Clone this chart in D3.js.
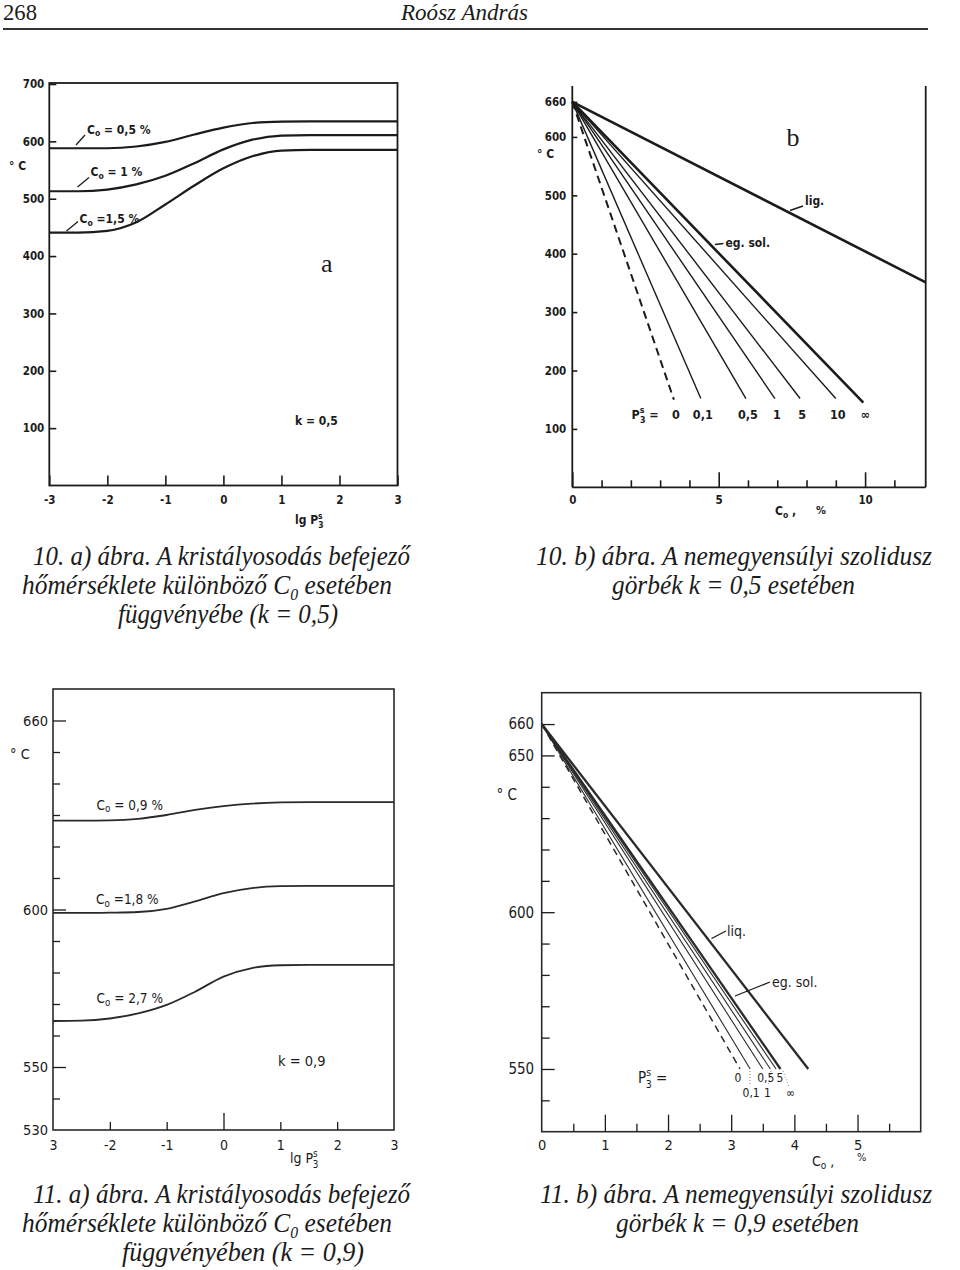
<!DOCTYPE html>
<html><head><meta charset="utf-8">
<script src="https://cdn.jsdelivr.net/npm/d3@7"></script>
<style>
body{margin:0;background:#fff;}
svg{display:block;}
</style></head><body>
<svg id="c" width="960" height="1270"></svg>
<script>
// ---------------- DATA ----------------
const pageNumber = "268";
const author = "Roósz András";

// Fig 10 a) — k = 0.5
const fig10a_lgP = [-3,-2.5,-2,-1.5,-1,-0.5,0,0.5,1,1.5,2,2.5,3];
const fig10a_C05 = [588,588,588,591,599,612,624,632,634.5,635,635,635,635];
const fig10a_C10 = [513,513,516,525,540,562,586,603,610,611,611,611,611];
const fig10a_C15 = [441,441,444,459,490,523,553,574,584,585,585,585,585];
const fig10a_yTicks = [100,200,300,400,500,600,700];
const fig10a_xTicks = [-3,-2,-1,0,1,2,3];

// Fig 10 b) — k = 0.5
const fig10b_origin = [0,660];
const fig10b_P = ["0","0,1","0,5","1","5","10","∞"];
const fig10b_endC = [3.47,4.39,5.93,6.92,7.78,9.0,9.94];
const fig10b_endT = [150,152,152,152,152,152,145];
const fig10b_liqEnd = [12.07,351];
const fig10b_yTicks = [100,200,300,400,500,600,660];
const fig10b_xTicks = [0,5,10];

// Fig 11 a) — k = 0.9
const fig11a_lgP = [-3,-2.5,-2,-1.5,-1,-0.5,0,0.5,1,1.5,2,2.5,3];
const fig11a_C09 = [628.2,628.2,628.3,628.8,630.0,631.6,632.8,633.6,634.0,634.1,634.1,634.1,634.1];
const fig11a_C18 = [598.9,598.9,599.0,599.2,600.2,602.6,605.2,606.8,607.4,607.5,607.5,607.5,607.5];
const fig11a_C27 = [564.6,564.7,565.4,567.0,569.7,573.9,578.7,581.4,582.3,582.4,582.4,582.4,582.4];
const fig11a_yTicks = [660,600,550,530];
const fig11a_xTicks = [-3,-2,-1,0,1,2,3];
const fig11a_xTickLabels = ["3","-2","-1","0","1","2","3"];

// Fig 11 b) — k = 0.9
const fig11b_origin = [0,660];
const fig11b_P = ["0","0,1","0,5","1","5","∞"];
const fig11b_endC = [3.14,3.30,3.50,3.62,3.71,3.78];
const fig11b_endT = [550,550,550,550,550,550];
const fig11b_liqEnd = [4.22,550];
const fig11b_yTicks = [660,650,600,550];
const fig11b_xTicks = [0,1,2,3,4,5];

// captions
const cap10a = ["10. a) ábra. A kristályosodás befejező", ["hőmérséklete különböző C","0"," esetében"], "függvényébe (k = 0,5)"];
const cap10b = ["10. b) ábra. A nemegyensúlyi szolidusz", "görbék k = 0,5 esetében"];
const cap11a = ["11. a) ábra. A kristályosodás befejező", ["hőmérséklete különböző C","0"," esetében"], "függvényében (k = 0,9)"];
const cap11b = ["11. b) ábra. A nemegyensúlyi szolidusz", "görbék k = 0,9 esetében"];

// ---------------- DRAWING ----------------
const svg = d3.select("#c");
const INK = "#1b1b1b";
const SANS = '"DejaVu Sans Condensed","DejaVu Sans",sans-serif';
const SERIF = '"Liberation Serif","Times New Roman",serif';

function txt(g, x, y, s, fs, opts={}) {
  const t = g.append("text").attr("x",x).attr("y",y).attr("fill",INK)
    .attr("font-family", opts.family||SANS).attr("font-size",fs)
    .attr("font-weight", opts.weight||"normal")
    .attr("font-style", opts.italic?"italic":"normal")
    .attr("text-anchor", opts.anchor||"start");
  if (opts.len) t.attr("textLength",opts.len).attr("lengthAdjust","spacingAndGlyphs");
  if (s!==null) t.text(s);
  return t;
}
function seg(g, x1,y1,x2,y2, w=1.3, dash=null, col=INK){
  const l = g.append("line").attr("x1",x1).attr("y1",y1).attr("x2",x2).attr("y2",y2)
    .attr("stroke",col).attr("stroke-width",w);
  if (dash) l.attr("stroke-dasharray",dash);
  return l;
}
function cLabel(g, x, y, rest, fs, weight){
  const t = txt(g,x,y,null,fs,{weight});
  t.append("tspan").text("C");
  t.append("tspan").attr("font-size",fs*0.72).attr("dy",fs*0.22).text("o");
  t.append("tspan").attr("dy",-fs*0.22).text(rest);
}
function pLabel(g, x, y, fs, weight, pre, tail){
  const t = txt(g,x,y,null,fs,{weight});
  t.append("tspan").text(pre+"P");
  t.append("tspan").attr("font-size",fs*0.7).attr("dy",-fs*0.45).text("s");
  t.append("tspan").attr("font-size",fs*0.7).attr("dx",-fs*0.36).attr("dy",fs*0.8).text("3");
  if (tail) t.append("tspan").attr("dy",-fs*0.35).text(tail);
}
function yAxis(g, y, x0, ticks, size, pad, fmt, fs, weight, w=1.6){
  const ax = d3.axisLeft(y).tickValues(ticks).tickSize(-size).tickPadding(pad);
  ax.tickFormat(fmt===null ? ()=>"" : (fmt || (d=>d)));
  const a = g.append("g").attr("transform",`translate(${x0},0)`).call(ax);
  a.select(".domain").remove();
  a.selectAll("line").attr("stroke",INK).attr("stroke-width",w);
  a.selectAll("text").style("font-family",SANS).style("font-size",fs+"px").style("font-weight",weight).attr("fill",INK);
}
function xAxis(g, x, y0, ticks, size, pad, fmt, fs, weight, w=1.6){
  const ax = d3.axisBottom(x).tickValues(ticks).tickSize(-size).tickPadding(pad);
  ax.tickFormat(fmt===null ? ()=>"" : (fmt || (d=>d)));
  const a = g.append("g").attr("transform",`translate(0,${y0})`).call(ax);
  a.select(".domain").remove();
  a.selectAll("line").attr("stroke",INK).attr("stroke-width",w);
  a.selectAll("text").style("font-family",SANS).style("font-size",fs+"px").style("font-weight",weight).attr("fill",INK);
}
function caption(g, lines, xs, lens, ys, fs){
  lines.forEach((ln,i)=>{
    const t = txt(g, xs[i], ys[i], null, fs, {family:SERIF, italic:true, len:lens[i]});
    if (Array.isArray(ln)) {
      t.append("tspan").text(ln[0]);
      t.append("tspan").attr("font-size",fs*0.62).attr("dy",fs*0.2).text(ln[1]);
      t.append("tspan").attr("dy",-fs*0.2).text(ln[2]);
    } else t.text(ln);
  });
}

// ---------- header ----------
const hdr = svg.append("g");
txt(hdr, 3, 20, pageNumber, 24, {family:SERIF, len:34});
txt(hdr, 401, 20, author, 24, {family:SERIF, italic:true, len:127});
seg(hdr, 3, 29, 928, 29, 2, null, "#333");

// ---------- Fig 10 a ----------
{
  const g = svg.append("g");
  const x = d3.scaleLinear().domain([-3,3]).range([49.3,397.5]);
  const y = d3.scaleLinear().domain([0,700]).range([485.5,84]);
  g.append("rect").attr("x",x(-3)).attr("y",83).attr("width",x(3)-x(-3)).attr("height",y(0)-83)
    .attr("fill","none").attr("stroke",INK).attr("stroke-width",1.8);
  yAxis(g, y, x(-3), fig10a_yTicks, 7, 5, undefined, 11.5, "bold");
  xAxis(g, x, y(0), fig10a_xTicks, 10, 10, undefined, 11.5, "bold");
  const line = d3.line().x((d,i)=>x(fig10a_lgP[i])).y(d=>y(d)).curve(d3.curveMonotoneX);
  [fig10a_C05, fig10a_C10, fig10a_C15].forEach(s=>{
    g.append("path").attr("d",line(s)).attr("fill","none").attr("stroke",INK).attr("stroke-width",2.2);
  });
  cLabel(g, 87, 133.5, " = 0,5 %", 12, "bold");
  seg(g, 76,145, 85,135, 1.3);
  cLabel(g, 90.5, 176, " = 1 %", 12, "bold");
  seg(g, 77.5,187, 89,177.5, 1.3);
  cLabel(g, 79.5, 223, " =1,5 %", 12, "bold");
  seg(g, 66.5,231, 78,221.5, 1.3);
  txt(g, 9, 170, "° C", 12, {weight:"bold"});
  txt(g, 295, 425, "k = 0,5", 12, {weight:"bold"});
  txt(g, 321, 272, "a", 26, {family:SERIF});
  pLabel(g, 295, 524, 12, "bold", "lg ", null);
}

// ---------- Fig 10 b ----------
{
  const g = svg.append("g");
  const x = d3.scaleLinear().domain([0,12.07]).range([572.3,925.7]);
  const y = d3.scaleLinear().domain([0,660]).range([487.3,101.9]);
  seg(g, x(0), 86, x(0), y(0), 1.8);
  seg(g, x(12.07), 86, x(12.07), y(0), 1.8);
  seg(g, x(0), y(0), x(12.07), y(0), 1.8);
  yAxis(g, y, x(0), fig10b_yTicks, 5, 6, undefined, 11.5, "bold");
  xAxis(g, x, y(0), d3.range(1,12).filter(v=>v%5), 7, 9, null, 11, "bold");
  xAxis(g, x, y(0), fig10b_xTicks, 15, 9, undefined, 11.5, "bold");
  const line = d3.line().x(d=>x(d[0])).y(d=>y(d[1]));
  fig10b_P.forEach((p,i)=>{
    const pts = [fig10b_origin,[fig10b_endC[i],fig10b_endT[i]]];
    const path = g.append("path").attr("d",line(pts)).attr("fill","none").attr("stroke",INK);
    if (i===0) path.attr("stroke-width",2).attr("stroke-dasharray","8,5");
    else if (i===fig10b_P.length-1) path.attr("stroke-width",2.6);
    else path.attr("stroke-width",1.4);
    txt(g, x(fig10b_endC[i])+2, 418.5, p, 12.5, {weight:"bold", anchor:"middle"});
  });
  g.append("path").attr("d",line([fig10b_origin,fig10b_liqEnd])).attr("fill","none").attr("stroke",INK).attr("stroke-width",2.6);
  pLabel(g, 631.5, 418.5, 12.5, "bold", "", " =");
  txt(g, 805, 205, "lig.", 12, {weight:"bold"});
  seg(g, 790,210.5, 803,206, 1.4);
  txt(g, 725.5, 247, "eg. sol.", 12, {weight:"bold"});
  seg(g, 715,244.5, 723.5,243.5, 1.4);
  txt(g, 786.5, 146, "b", 26, {family:SERIF});
  txt(g, 537, 158, "° C", 12, {weight:"bold"});
  cLabel(g, 775, 515, " ,", 12, "bold");
  txt(g, 816, 514, "%", 11, {weight:"bold"});
}

// ---------- Fig 11 a ----------
{
  const g = svg.append("g");
  const x = d3.scaleLinear().domain([-3,3]).range([53,394]);
  const y = d3.scaleLinear().domain([530,670]).range([1130,689]);
  g.append("rect").attr("x",x(-3)).attr("y",y(670)).attr("width",x(3)-x(-3)).attr("height",y(530)-y(670))
    .attr("fill","none").attr("stroke","#2a2a2a").attr("stroke-width",1.6);
  const major = [550,600,660];
  yAxis(g, y, x(-3), d3.range(540,661,10).filter(v=>!major.includes(v)), 7, 5, null, 14, "normal", 1.3);
  yAxis(g, y, x(-3), major, 13, 5, null, 14, "normal", 1.3);
  yAxis(g, y, x(-3), fig11a_yTicks, 0, 5, undefined, 14.5, "normal", 1.3);
  xAxis(g, x, y(530), [-2,-1,1,2], 8, 10, null, 14, "normal", 1.3);
  xAxis(g, x, y(530), [0], 17, 10, null, 14, "normal", 1.3);
  xAxis(g, x, y(530), fig11a_xTicks, 0, 10, (d,i)=>fig11a_xTickLabels[i], 14, "normal", 1.3);
  const line = d3.line().x((d,i)=>x(fig11a_lgP[i])).y(d=>y(d)).curve(d3.curveMonotoneX);
  [fig11a_C09, fig11a_C18, fig11a_C27].forEach(s=>{
    g.append("path").attr("d",line(s)).attr("fill","none").attr("stroke","#2a2a2a").attr("stroke-width",1.8);
  });
  cLabel(g, 96.5, 809.5, " = 0,9 %", 13.5, "normal");
  cLabel(g, 96, 904, " =1,8 %", 13.5, "normal");
  cLabel(g, 96.5, 1003, " = 2,7 %", 13.5, "normal");
  txt(g, 278, 1066, "k =  0,9", 14.5);
  txt(g, 10, 759, "° C", 14.5);
  pLabel(g, 290, 1163, 14, "normal", "lg ", null);
}

// ---------- Fig 11 b ----------
{
  const g = svg.append("g");
  const x = d3.scaleLinear().domain([0,6]).range([541.7,920.7]);
  const y = d3.scaleLinear().domain([530,670]).range([1131.7,692.7]);
  g.append("rect").attr("x",x(0)).attr("y",y(670)).attr("width",x(6)-x(0)).attr("height",y(530)-y(670))
    .attr("fill","none").attr("stroke","#2a2a2a").attr("stroke-width",1.6);
  const major = [550,600,650,660];
  yAxis(g, y, x(0), d3.range(540,661,10).filter(v=>!major.includes(v)), 8, 7, null, 15, "normal", 1.3);
  yAxis(g, y, x(0), fig11b_yTicks, 13, 7.5, undefined, 15, "normal", 1.3);
  xAxis(g, x, y(530), d3.range(0.5,6,1), 8, 8, null, 14, "normal", 1.3);
  xAxis(g, x, y(530), [1,2,3,4,5], 17, 8, null, 14, "normal", 1.3);
  xAxis(g, x, y(530), fig11b_xTicks, 0, 8, undefined, 14.5, "normal", 1.3);
  const line = d3.line().x(d=>x(d[0])).y(d=>y(d[1]));
  const labelDx = [-2,1,3,-3,4,10];
  fig11b_P.forEach((p,i)=>{
    const pts = [fig11b_origin,[fig11b_endC[i],fig11b_endT[i]]];
    const path = g.append("path").attr("d",line(pts)).attr("fill","none").attr("stroke","#2a2a2a");
    if (i===0) path.attr("stroke-width",1.5).attr("stroke-dasharray","7,5");
    else if (i===fig11b_P.length-1) path.attr("stroke-width",2.3);
    else path.attr("stroke-width",1.1);
    const row = i%2;
    txt(g, x(fig11b_endC[i])+labelDx[i], row ? 1096.5 : 1082, p, 12, {anchor:"middle"});
  });
  g.append("path").attr("d",line([fig11b_origin,fig11b_liqEnd])).attr("fill","none").attr("stroke","#2a2a2a").attr("stroke-width",2.3);
  seg(g, 750,1071, 750,1085, 1, "1,2", "#888");
  seg(g, 771,1071, 768.5,1086, 1, "1,2", "#888");
  seg(g, 783,1071, 789,1087, 1, "1,2", "#888");
  pLabel(g, 638, 1083, 15, "normal", "", " =");
  txt(g, 727, 936, "liq.", 14);
  seg(g, 711.5,938.5, 726,931, 1.3);
  txt(g, 772, 987, "eg.  sol.", 14);
  seg(g, 735,996, 770,982, 1.3);
  txt(g, 496.5, 800, "° C", 15);
  cLabel(g, 812, 1166, " ,", 14, "normal");
  txt(g, 857, 1161, "%", 11);
}

// ---------- captions ----------
const cg = svg.append("g");
caption(cg, cap10a, [33,22,118], [377,370,220], [565,594,623], 28);
caption(cg, cap10b, [536,612], [396,243], [565,594], 28);
caption(cg, cap11a, [33,22,122], [377,370,242], [1203,1232,1261], 28);
caption(cg, cap11b, [540,616], [392,243], [1203,1232], 28);
</script>
</body></html>
